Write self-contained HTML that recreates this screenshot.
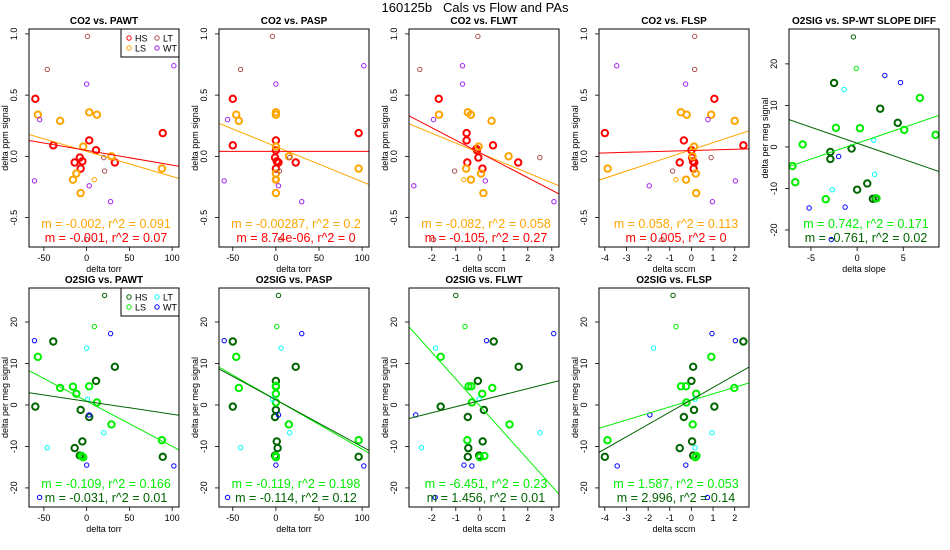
<!DOCTYPE html>
<html><head><meta charset="utf-8"><style>
html,body{margin:0;padding:0;background:#fff;}
svg{display:block;font-family:"Liberation Sans",sans-serif;}
</style></head><body>
<svg id="chart" width="950" height="550" viewBox="0 0 950 550" xmlns="http://www.w3.org/2000/svg">
<rect x="0" y="0" width="950" height="550" fill="#fff"/>
<text x="475" y="12" text-anchor="middle" font-size="13" style="white-space:pre" xml:space="preserve">160125b   Cals vs Flow and PAs</text>
</svg>
<script>
const catCO2A = ['H','H','H','H','H','H','H','H','H','H','L','L','L','L','L','L','L','L','L','L','l','T','T','T','T','T','W','W','W','W','W','W'];
const co2PawtX = [-60,-39,3,11,-8,-14,-5,-7,33,89, -57,-31,3,12,-4,29,88,-12,-16,-7, 9, 1,-46,20,21,0, -55,0,102,-61,3,28];
const co2PawtY = [0.47,0.09,0.13,0.05,-0.01,-0.05,-0.04,-0.10,-0.05,0.19, 0.34,0.29,0.36,0.34,0.08,0.0,-0.10,-0.14,-0.19,-0.30, -0.19, 0.98,0.71,-0.01,-0.12,-0.68, 0.30,0.59,0.74,-0.20,-0.24,-0.37];
const co2PaspX = [-50,-50,0,0,-1,1,3,0,23,96, -46,-43,0,0,0,15,96,0,0,0, 0, -4,-41,16,4,5, -56,0,102,-60,3,30];
const co2PaspY = [0.47,0.09,0.13,0.05,-0.01,-0.04,-0.05,-0.10,-0.05,0.19, 0.34,0.29,0.36,0.34,0.08,0.0,-0.10,-0.14,-0.19,-0.30, -0.19, 0.98,0.71,-0.01,-0.12,-0.68, 0.30,0.59,0.74,-0.20,-0.24,-0.37];
const co2FlwtX = [-1.71,-0.55,-0.55,0.55,-0.12,-0.06,-0.52,0.11,1.6,-0.14, -1.7,-0.5,-0.37,0.49,-0.05,1.2,-0.57,0.05,-0.37,0.15, -0.67, -0.08,-2.5,2.5,-1.05,-1.93, -1.93,-0.72,-0.72,-2.75,0.23,3.09];
const co2FlwtY = [0.47,0.19,0.13,0.09,0.05,-0.01,-0.05,-0.10,-0.05,0.06, 0.34,0.36,0.34,0.29,0.08,0.0,-0.10,-0.14,-0.19,-0.30, -0.19, 0.98,0.71,-0.01,-0.12,-0.68, 0.30,0.74,0.59,-0.24,-0.20,-0.37];
const co2FlspX = [-4.0,-0.35,1.06,2.4,0,0.03,-0.54,0.07,0.1,0.13, -3.87,-0.49,-0.22,0.91,2.0,0.12,0.05,0.2,-0.25,0.22, -0.72, 0.15,0.15,0.91,-0.87,-1.36, -3.45,-0.27,0.76,-1.95,2.03,0.97];
const co2FlspY = [0.19,0.13,0.47,0.09,0.05,-0.01,-0.05,-0.04,-0.10,-0.05, -0.10,0.36,0.34,0.34,0.29,0.08,0.0,-0.14,-0.19,-0.30, -0.19, 0.98,0.71,-0.01,-0.12,-0.68, 0.74,0.59,0.30,-0.24,-0.20,-0.37];

const catO2 = ['H','H','H','H','H','H','H','H','H','H','h','L','L','L','L','L','L','L','L','L','L','l','T','T','T','T','W','W','W','W','W','W'];
const o2SlopeX = [-2.5,2.5,4.4,-0.6,-2.9,-2.9,0,1.1,1.7,2.0, -0.4, 6.8,-2.3,0.3,5.1,8.5,-5.9,-7.0,-6.7,-3.4,2.1, -0.1, -1.4,1.8,1.9,-2.7, 3.0,4.7,-2.0,-5.2,-1.3,-2.8];
const o2SlopeY = [15.4,9.2,5.8,-0.4,-1.2,-2.9,-10.3,-8.8,-12.5,-12.4, 26.5, 11.8,4.6,4.5,4.1,2.9,0.6,-4.6,-8.5,-12.6,-12.4, 18.9, 13.8,1.6,-6.6,-10.3, 17.2,15.5,-2.3,-14.7,-14.5,-22.3];
const o2PawtX = [-39,33,11,-60,-7,3,-5,-14,-8,89, 21, -57,-31,-16,-12,3,12,29,88,-4,-6, 9, 0,1,20,-46, -61,28,3,0,102,-55];
const o2PawtY = [15.3,9.2,5.8,-0.4,-1.2,-2.9,-8.8,-10.4,-12.2,-12.5, 26.4, 11.6,4.1,4.4,2.7,4.5,0.6,-4.7,-8.5,-12.6,-12.3, 18.9, 13.7,1.4,-6.7,-10.3, 15.5,17.2,-2.4,-14.5,-14.7,-22.3];
const o2PaspX = [-50,23,0,-50,0,-1,1,2,-1,96, 3, -46,-43,0,0,0,0,15,96,0,0, 1, 6,-4,16,-41, -60,30,3,0,102,-56];
const o2PaspY = [15.3,9.2,5.8,-0.4,-1.2,-2.9,-8.8,-10.4,-12.2,-12.5, 26.4, 11.6,4.1,4.4,4.6,2.7,0.6,-4.7,-8.5,-12.6,-12.3, 18.9, 13.7,1.4,-6.7,-10.3, 15.5,17.2,-2.4,-14.5,-14.7,-22.3];
const o2FlwtX = [0.58,1.62,-0.08,-1.63,0.17,-0.5,0.12,-0.48,-0.03,-0.5, -1.0, -1.63,-0.35,-0.47,0.52,0.1,-0.33,1.24,-0.52,0,0.19, -0.62, -1.84,-0.03,2.51,-2.43, 0.28,3.08,-2.67,-0.66,-0.33,-1.86];
const o2FlwtY = [15.3,9.2,5.8,-0.4,-1.2,-2.9,-8.8,-10.4,-12.2,-12.5, 26.4, 11.6,4.5,4.5,4.1,2.7,0.6,-4.7,-8.5,-12.6,-12.3, 18.9, 13.7,1.4,-6.7,-10.3, 15.5,17.2,-2.4,-14.5,-14.7,-22.3];
const o2FlspX = [2.4,0.08,0,1.06,0.12,-0.35,0.03,-0.54,0.08,-4.0, -0.85, 0.92,-0.48,-0.25,1.98,0.22,-0.23,0.06,-3.88,0.18,0.23, -0.71, -1.75,0.17,0.95,0.17, 2.03,0.95,-1.92,-0.26,-3.43,0.74];
const o2FlspY = [15.3,9.2,5.8,-0.4,-1.2,-2.9,-8.8,-10.4,-12.2,-12.5, 26.4, 11.6,4.5,4.5,4.1,2.7,0.6,-4.7,-8.5,-12.6,-12.3, 18.9, 13.7,1.4,-6.7,-10.3, 15.5,17.2,-2.4,-14.5,-14.7,-22.3];

const fitCO2Pawt = [[-0.00205,0.041],[-0.0012,0.049]];
const fitCO2Pasp = [[-0.00287,0.08],[0.0,0.041]];
const fitCO2Flwt = [[-0.081,0.027],[-0.102,0.03]];
const fitCO2Flsp = [[0.058,0.054],[0.005,0.048]];
const fitO2Slope = [[0.757,0.88],[-0.77,0.9]];
const fitO2Pawt = [[-0.109,0.93],[-0.031,0.87]];
const fitO2Pasp = [[-0.119,1.25],[-0.113,1.24]];
const fitO2Flwt = [[-6.45,-0.2],[1.46,1.03]];
const fitO2Flsp = [[1.575,1.11],[2.97,1.25]];

const statsCO2Pawt = ['m = -0.002, r^2 = 0.091','m = -0.001, r^2 = 0.07'];
const statsCO2Pasp = ['m = -0.00287, r^2 = 0.2','m = 8.74e-06, r^2 = 0'];
const statsCO2Flwt = ['m = -0.082, r^2 = 0.058','m = -0.105, r^2 = 0.27'];
const statsCO2Flsp = ['m = 0.058, r^2 = 0.113','m = 0.005, r^2 = 0'];
const statsO2Slope = ['m = 0.742, r^2 = 0.171','m = -0.761, r^2 = 0.02'];
const statsO2Pawt = ['m = -0.109, r^2 = 0.166','m = -0.031, r^2 = 0.01'];
const statsO2Pasp = ['m = -0.119, r^2 = 0.198','m = -0.114, r^2 = 0.12'];
const statsO2Flwt = ['m = -6.451, r^2 = 0.23','m = 1.456, r^2 = 0.01'];
const statsO2Flsp = ['m = 1.587, r^2 = 0.053','m = 2.996, r^2 = 0.14'];

const ticksTorr = [-50,0,50,100];
const ticksFlwt = [-2,-1,0,1,2,3];
const ticksFlsp = [-4,-3,-2,-1,0,1,2];
const ticksSlope = [-5,0,5];
const ticksPpm = [-0.5,0,0.5,1];
const ticksMeg = [-20,-10,0,10,20];
const tickLabPpm = ['-0.5','0.0','0.5','1.0'];
const tickLabMeg = ['-20','-10','0','10','20'];

const svg = document.getElementById('chart');
const NS = 'http://www.w3.org/2000/svg';
function mk(tag, attrs, parent){ const e=document.createElementNS(NS,tag); for(const k in attrs) e.setAttribute(k,attrs[k]); (parent||svg).appendChild(e); return e; }

const colCO2 = {H:'#ff0000',h:'#ff0000',L:'#ffa500',l:'#ffa500',T:'#b0504f',W:'#a020f0'};
const colO2 = {H:'#006400',h:'#006400',L:'#00ee00',l:'#00ee00',T:'#00ffff',W:'#0000ff'};

function panel(o, idx){
  const g = mk('g',{});
  
  
  const sx = v => o.x0 + (v - o.xmin)/(o.xmax - o.xmin)*o.w;
  const sy = v => o.y0 + (o.ymax - v)/(o.ymax - o.ymin)*o.h;
  const clipId = 'clip'+idx;
  const cp = mk('clipPath',{id:clipId},g);
  mk('rect',{x:o.x0,y:o.y0,width:o.w,height:o.h},cp);
  const t = mk('text',{x:o.x0+o.w/2,y:o.y0-5,'text-anchor':'middle','font-size':'10','font-weight':'bold'},g);
  t.textContent = o.title;
  
  
  o.xticks.forEach(v=>{
    const x = sx(v);
    mk('line',{x1:x,x2:x,y1:o.y0+o.h,y2:o.y0+o.h+4,stroke:'#000','stroke-width':'0.8'},g);
    const tl = mk('text',{x:x,y:o.y0+o.h+14,'text-anchor':'middle','font-size':'9'},g);
    tl.textContent = String(v);
    
    
  });
  mk('line',{x1:sx(o.xticks[0]),x2:sx(o.xticks[o.xticks.length-1]),y1:o.y0+o.h,y2:o.y0+o.h,stroke:'#000','stroke-width':'0.8'},g);
  const xl = mk('text',{x:o.x0+o.w/2,y:o.y0+o.h+25,'text-anchor':'middle','font-size':'9'},g);
  xl.textContent = o.xlabel;
  
  
  o.yticks.forEach((v,i)=>{
    const y = sy(v);
    mk('line',{x1:o.x0-4,x2:o.x0,y1:y,y2:y,stroke:'#000','stroke-width':'0.8'},g);
    const tl = mk('text',{x:o.x0-12,y:y,'text-anchor':'middle','font-size':'9',transform:`rotate(-90 ${o.x0-12} ${y})`},g);
    tl.textContent = o.ytickLabels[i];
    
    
  });
  const yx = o.x0-21, yy = o.y0+o.h/2;
  const yl = mk('text',{x:yx,y:yy,'text-anchor':'middle','font-size':'9',transform:`rotate(-90 ${yx} ${yy})`},g);
  yl.textContent = o.ylabel;
  
  
  o.cats.forEach((c,i)=>{
    const thick = (c==='H'||c==='L');
    const p = mk('circle',{cx:sx(o.xs[i]),cy:sy(o.ys[i]),r:thick?3.2:2.2,fill:'none',stroke:o.colors[c],'stroke-width':thick?2:1},g);
    
    
  });
  const lc = [o.colors.L, o.colors.H];
  o.fits.forEach((f,i)=>{
    const l = mk('line',{x1:sx(o.xmin),y1:sy(f[0]*o.xmin+f[1]),x2:sx(o.xmax),y2:sy(f[0]*o.xmax+f[1]),stroke:lc[i],'stroke-width':'1','clip-path':`url(#${clipId})`},g);
    
    
  });
  o.stats.forEach((s,i)=>{
    const st = mk('text',{x:o.x0+o.w/2+2,y:o.y0+o.h-(i===0?19:5),'text-anchor':'middle','font-size':'12.5',fill:lc[i]},g);
    st.textContent = s;
    
    
  });
  mk('rect',{x:o.x0,y:o.y0,width:o.w,height:o.h,fill:'none',stroke:'#000','stroke-width':'1'},g);
  if(o.legend){
    const lg = mk('g',{},g);
    
    
    const lx = o.x0+o.w-58, ly = o.y0;
    mk('rect',{x:lx,y:ly,width:58,height:28,fill:'#fff',stroke:'#000','stroke-width':'1'},lg);
    [['HS','H',0,0],['LT','T',1,0],['LS','L',0,1],['WT','W',1,1]].forEach(e=>{
      const cx = lx+8+e[2]*28, cy = ly+9+e[3]*10;
      mk('circle',{cx:cx,cy:cy,r:2.2,fill:'none',stroke:o.colors[e[1]],'stroke-width':'1'},lg);
      const et = mk('text',{x:cx+6,y:cy+3.5,'font-size':'9'},lg);
      et.textContent = e[0];
      
      
    });
  }
}

const topY = {y0:29,h:218,ymin:-0.74,ymax:1.04,yticks:ticksPpm,ytickLabels:tickLabPpm,ylabel:'delta ppm signal'};
const botY = {y0:288,h:219,ymin:-24.6,ymax:28.2,yticks:ticksMeg,ytickLabels:tickLabMeg,ylabel:'delta per meg signal'};
const panels = [
  Object.assign({name:'panel-co2-pawt',title:'CO2 vs. PAWT',x0:29,w:150,xmin:-67.4,xmax:108,xticks:ticksTorr,xlabel:'delta torr',xs:co2PawtX,ys:co2PawtY,cats:catCO2A,colors:colCO2,fits:fitCO2Pawt,stats:statsCO2Pawt,legend:true},topY),
  Object.assign({name:'panel-co2-pasp',title:'CO2 vs. PASP',x0:219,w:150,xmin:-66,xmax:108,xticks:ticksTorr,xlabel:'delta torr',xs:co2PaspX,ys:co2PaspY,cats:catCO2A,colors:colCO2,fits:fitCO2Pasp,stats:statsCO2Pasp},topY),
  Object.assign({name:'panel-co2-flwt',title:'CO2 vs. FLWT',x0:409,w:150,xmin:-2.95,xmax:3.3,xticks:ticksFlwt,xlabel:'delta sccm',xs:co2FlwtX,ys:co2FlwtY,cats:catCO2A,colors:colCO2,fits:fitCO2Flwt,stats:statsCO2Flwt},topY),
  Object.assign({name:'panel-co2-flsp',title:'CO2 vs. FLSP',x0:599,w:150,xmin:-4.27,xmax:2.66,xticks:ticksFlsp,xlabel:'delta sccm',xs:co2FlspX,ys:co2FlspY,cats:catCO2A,colors:colCO2,fits:fitCO2Flsp,stats:statsCO2Flsp},topY),
  Object.assign({name:'panel-o2-slope',title:'O2SIG vs. SP-WT SLOPE DIFF',x0:789,w:150,xmin:-7.38,xmax:8.87,xticks:ticksSlope,xlabel:'delta slope',xs:o2SlopeX,ys:o2SlopeY,cats:catO2,colors:colO2,fits:fitO2Slope,stats:statsO2Slope},topY,{ymin:-24.1,ymax:28.4,yticks:ticksMeg,ytickLabels:tickLabMeg,ylabel:'delta per meg signal'}),
  Object.assign({name:'panel-o2-pawt',title:'O2SIG vs. PAWT',x0:29,w:150,xmin:-67.4,xmax:108,xticks:ticksTorr,xlabel:'delta torr',xs:o2PawtX,ys:o2PawtY,cats:catO2,colors:colO2,fits:fitO2Pawt,stats:statsO2Pawt,legend:true},botY),
  Object.assign({name:'panel-o2-pasp',title:'O2SIG vs. PASP',x0:219,w:150,xmin:-66,xmax:108,xticks:ticksTorr,xlabel:'delta torr',xs:o2PaspX,ys:o2PaspY,cats:catO2,colors:colO2,fits:fitO2Pasp,stats:statsO2Pasp},botY),
  Object.assign({name:'panel-o2-flwt',title:'O2SIG vs. FLWT',x0:409,w:150,xmin:-2.95,xmax:3.3,xticks:ticksFlwt,xlabel:'delta sccm',xs:o2FlwtX,ys:o2FlwtY,cats:catO2,colors:colO2,fits:fitO2Flwt,stats:statsO2Flwt},botY),
  Object.assign({name:'panel-o2-flsp',title:'O2SIG vs. FLSP',x0:599,w:150,xmin:-4.27,xmax:2.66,xticks:ticksFlsp,xlabel:'delta sccm',xs:o2FlspX,ys:o2FlspY,cats:catO2,colors:colO2,fits:fitO2Flsp,stats:statsO2Flsp},botY)
];
panels.forEach((p,i)=>panel(p,i));
</script>
</body></html>
